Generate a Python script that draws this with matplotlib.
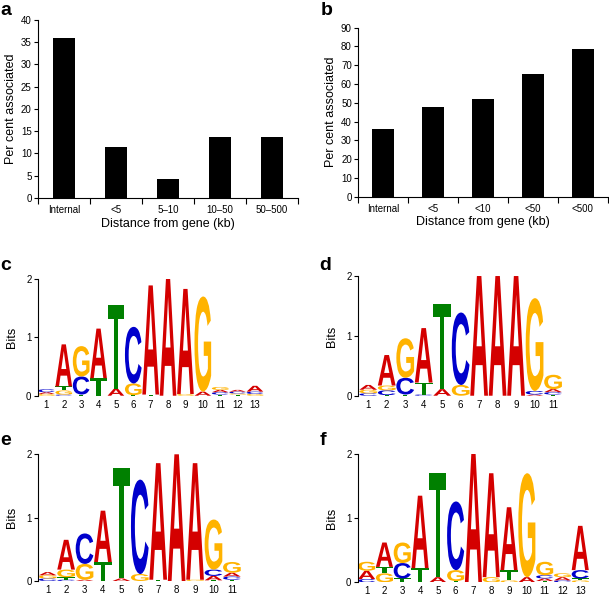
import numpy as np
import matplotlib
matplotlib.use('Agg')
import matplotlib.pyplot as plt
from matplotlib.textpath import TextPath
from matplotlib.patches import PathPatch
from matplotlib.font_manager import FontProperties
import matplotlib.transforms as mtransforms

plt.rcParams['font.family'] = ['Liberation Sans', 'DejaVu Sans']

# bar chart data
cats_a = ['Internal', '<5', '5\u201310', '10\u201350', '50\u2013500']
vals_a = [36, 11.5, 4.2, 13.6, 13.6]
cats_b = ['Internal', '<5', '<10', '<50', '<500']
vals_b = [36, 48, 52, 65.3, 78.8]

# logo data: each column is a stack from bottom to top (letter, bits)
logo_c = [
    [('G', 0.03), ('A', 0.03), ('C', 0.05)],
    [('C', 0.02), ('G', 0.07), ('T', 0.07), ('A', 0.72)],
    [('T', 0.02), ('C', 0.31), ('G', 0.52)],
    [('T', 0.30), ('A', 0.85)],
    [('A', 0.12), ('T', 1.43)],
    [('T', 0.01), ('G', 0.20), ('C', 0.97)],
    [('T', 0.02), ('A', 1.87)],
    [('A', 2.0)],
    [('G', 0.03), ('A', 1.80)],
    [('A', 0.07), ('G', 1.63)],
    [('T', 0.02), ('C', 0.04), ('A', 0.04), ('G', 0.05)],
    [('T', 0.02), ('G', 0.02), ('C', 0.03), ('A', 0.03)],
    [('G', 0.03), ('C', 0.04), ('A', 0.10)],
]
logo_d = [
    [('C', 0.04), ('G', 0.06), ('A', 0.08)],
    [('T', 0.01), ('C', 0.08), ('G', 0.08), ('A', 0.51)],
    [('T', 0.02), ('C', 0.28), ('G', 0.66)],
    [('C', 0.02), ('T', 0.20), ('A', 0.91)],
    [('A', 0.11), ('T', 1.43)],
    [('G', 0.18), ('C', 1.21)],
    [('A', 2.0)],
    [('A', 2.0)],
    [('A', 2.0)],
    [('A', 0.02), ('C', 0.06), ('G', 1.55)],
    [('T', 0.02), ('C', 0.04), ('A', 0.05), ('G', 0.24)],
]
logo_e = [
    [('C', 0.04), ('G', 0.05), ('A', 0.05)],
    [('C', 0.02), ('T', 0.04), ('G', 0.12), ('A', 0.47)],
    [('A', 0.02), ('G', 0.25), ('C', 0.48)],
    [('T', 0.30), ('A', 0.81)],
    [('A', 0.04), ('T', 1.74)],
    [('G', 0.11), ('C', 1.49)],
    [('T', 0.02), ('A', 1.84)],
    [('A', 2.0)],
    [('G', 0.02), ('A', 1.84)],
    [('T', 0.01), ('A', 0.07), ('C', 0.10), ('G', 0.79)],
    [('T', 0.02), ('C', 0.05), ('A', 0.06), ('G', 0.17)],
]
logo_f = [
    [('C', 0.05), ('A', 0.13), ('G', 0.14)],
    [('G', 0.14), ('T', 0.10), ('A', 0.38)],
    [('T', 0.06), ('C', 0.24), ('G', 0.32)],
    [('T', 0.22), ('A', 1.13)],
    [('A', 0.08), ('T', 1.62)],
    [('T', 0.02), ('G', 0.17), ('C', 1.07)],
    [('A', 2.0)],
    [('G', 0.08), ('A', 1.62)],
    [('G', 0.03), ('T', 0.16), ('A', 0.98)],
    [('A', 0.08), ('G', 1.62)],
    [('T', 0.02), ('A', 0.04), ('C', 0.05), ('G', 0.21)],
    [('C', 0.03), ('A', 0.05), ('G', 0.06)],
    [('G', 0.03), ('T', 0.03), ('C', 0.13), ('A', 0.69)],
]

colors = {'A': '#d40000', 'C': '#0000cc', 'G': '#ffb300', 'T': '#008000'}
fp = FontProperties(family='Liberation Sans', weight='bold')


def draw_letter(ax, ch, x, y, w, h):
    tp = TextPath((0, 0), ch, size=1, prop=fp)
    bb = tp.get_extents()
    t = mtransforms.Affine2D().translate(-bb.x0, -bb.y0) \
        .scale(w / bb.width, h / bb.height).translate(x - w / 2, y)
    ax.add_patch(PathPatch(t.transform_path(tp), facecolor=colors[ch],
                           edgecolor='none'))


def bar_panel(ax, cats, vals, ymax, step, width):
    pos = np.arange(len(cats))
    ax.bar(pos, vals, width=width, color='black')
    ax.set_xlim(-0.5, len(cats) - 0.5)
    ax.set_ylim(0, ymax)
    ax.set_yticks(np.arange(0, ymax + 1, step))
    ax.set_xticks(np.arange(-0.5, len(cats), 1.0))
    ax.set_xticklabels([])
    ax.set_xticks(pos, minor=True)
    ax.set_xticklabels(cats, minor=True)
    ax.tick_params(axis='x', which='minor', length=0, labelsize=7, pad=5)
    ax.tick_params(axis='x', which='major', length=4, width=0.8)
    ax.tick_params(axis='y', labelsize=7, length=3, width=0.8, pad=1.5)
    for s in ['top', 'right']:
        ax.spines[s].set_visible(False)
    ax.set_xlabel('Distance from gene (kb)', fontsize=9, labelpad=2)
    ax.set_ylabel('Per cent associated', fontsize=9, labelpad=3)


def logo_panel(ax, cols, x0):
    n = len(cols)
    for i, col in enumerate(cols):
        base = 0.0
        for ch, h in col:
            draw_letter(ax, ch, i + 1, base, 0.96, h)
            base += h
    ax.set_xlim(x0, n + 0.5)
    ax.set_ylim(0, 2)
    ax.set_yticks([0, 1, 2])
    ax.set_xticks(np.arange(1, n + 1))
    ax.tick_params(axis='x', length=0, labelsize=7, pad=3)
    ax.tick_params(axis='y', labelsize=7, length=3, width=0.8, pad=1.5)
    for s in ['top', 'right', 'bottom']:
        ax.spines[s].set_visible(False)
    ax.set_ylabel('Bits', fontsize=9, labelpad=6)


fig = plt.figure(figsize=(6.09, 5.94), dpi=100)

ax_a = fig.add_axes([0.0624, 0.6667, 0.427, 0.2997])
bar_panel(ax_a, cats_a, vals_a, 40, 5, 0.42)
ax_b = fig.add_axes([0.588, 0.6689, 0.41, 0.2845])
bar_panel(ax_b, cats_b, vals_b, 90, 10, 0.43)

ax_c = fig.add_axes([0.0619, 0.3338, 0.371, 0.1965])
logo_panel(ax_c, logo_c, 0.5)
ax_d = fig.add_axes([0.5883, 0.3338, 0.335, 0.2015])
logo_panel(ax_d, logo_d, 0.46)
ax_e = fig.add_axes([0.0629, 0.0219, 0.333, 0.2133])
logo_panel(ax_e, logo_e, 0.49)
ax_f = fig.add_axes([0.5874, 0.0197, 0.38, 0.216])
logo_panel(ax_f, logo_f, 0.5)

labels = [('a', 0.0, 0.975), ('b', 0.527, 0.975), ('c', 0.0, 0.5455),
          ('d', 0.525, 0.5455), ('e', 0.0, 0.2508), ('f', 0.525, 0.2508)]
for txt, x, y in labels:
    fig.text(x, y, txt, fontsize=14, fontweight='bold', va='baseline', ha='left')

fig.savefig('out.png', dpi=100)
